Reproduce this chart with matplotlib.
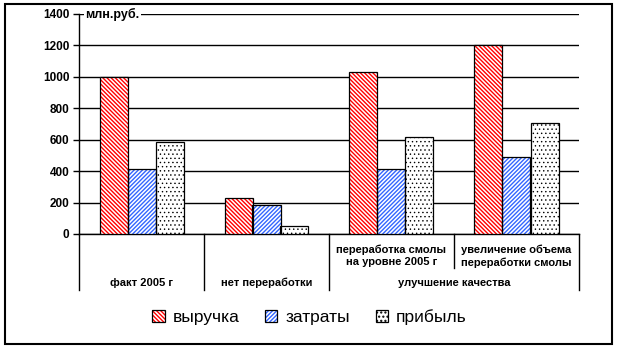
import matplotlib
matplotlib.use("Agg")
import matplotlib.pyplot as plt
from matplotlib.patches import Rectangle
import numpy as np

plt.rcParams["font.family"] = ["Liberation Sans", "DejaVu Sans"]
plt.rcParams["hatch.linewidth"] = 1.0

# scenarios and values, mln rub
scenarios = ["факт 2005 г", "нет переработки",
             "переработка смолы\nна уровне 2005 г",
             "увеличение объема\nпереработки смолы"]
group_label = "улучшение качества"
series_names = ["выручка", "затраты", "прибыль"]
revenue = [1000, 230, 1030, 1200]
costs = [415, 185, 415, 490]
profit = [585, 50, 615, 705]
y_ticks = [0, 200, 400, 600, 800, 1000, 1200, 1400]
unit_label = "млн.руб."

fig = plt.figure(figsize=(6.19, 3.49), dpi=100)
ax = fig.add_axes([79 / 619, 1 - 234 / 349, 500 / 619, 220 / 349])

x = np.arange(len(scenarios))
w = 0.224

# red: diagonal stripes with black outline
h_rev = ax.bar(x - w, revenue, w, facecolor="white", edgecolor="#ff0000",
               hatch="\\" * 8, linewidth=0, zorder=3)
b_rev = ax.bar(x - w, revenue, w, fill=False, edgecolor="black",
               linewidth=0.9, zorder=4)
# blue: opposite stripes
h_cost = ax.bar(x, costs, w, facecolor="white", edgecolor="#3366ff",
                hatch="/" * 8, linewidth=0, zorder=3)
b_cost = ax.bar(x, costs, w, fill=False, edgecolor="black",
                linewidth=0.9, zorder=4)
# dotted
b_prof = ax.bar(x + w, profit, w, facecolor="white", edgecolor="black",
                hatch="....", linewidth=0.9, zorder=3)
for p in b_prof:
    p.set_hatch_linewidth(0.5)

ax.set_xlim(-0.5, len(scenarios) - 0.5)
ax.set_ylim(0, 1400)
ax.set_yticks(y_ticks)
ax.set_yticklabels([str(t) for t in y_ticks], fontsize=8.5, fontweight="bold")
ax.tick_params(axis="y", direction="out", length=4, width=1, pad=3)
ax.set_xticks([])
ax.yaxis.grid(True, color="black", linewidth=1.0)
ax.set_axisbelow(True)
for side in ("top", "right"):
    ax.spines[side].set_visible(False)
ax.spines["left"].set_linewidth(1.0)
ax.spines["bottom"].set_linewidth(1.0)

ax.text(0.012, 1400, unit_label, transform=ax.get_yaxis_transform(),
        ha="left", va="center", fontsize=9, fontweight="bold",
        bbox=dict(facecolor="white", edgecolor="none", pad=1.0), zorder=5)

# two-level category axis
tr = ax.get_xaxis_transform()
for xb in [-0.5, 0.5, 1.5, 3.5]:
    ax.plot([xb, xb], [0, -0.2545], transform=tr, color="black",
            linewidth=1.0, clip_on=False)
ax.plot([2.5, 2.5], [0, -0.1545], transform=tr, color="black",
        linewidth=1.0, clip_on=False)

lab_kw = dict(transform=tr, ha="center", va="center", fontsize=8,
              fontweight="bold")
ax.text(0, -0.2227, scenarios[0], **lab_kw)
ax.text(1, -0.2227, scenarios[1], **lab_kw)
ax.text(2.5, -0.2227, group_label, **lab_kw)
ax.text(2, -0.1, scenarios[2], linespacing=1.3, **lab_kw)
ax.text(3, -0.1, scenarios[3], linespacing=1.3, **lab_kw)

leg = fig.legend([(h_rev, b_rev), (h_cost, b_cost), b_prof], series_names,
                 loc="center", bbox_to_anchor=(0.5, 1 - 317 / 349), ncol=3,
                 frameon=False, fontsize=12.5, handlelength=0.7,
                 handleheight=0.7, handletextpad=0.45, columnspacing=1.5)

# outer frame
fig.patches.append(Rectangle((5 / 619, 1 - 344 / 349), 607 / 619, 340 / 349,
                             transform=fig.transFigure, fill=False,
                             edgecolor="black", linewidth=1.5))

fig.savefig("out.png", dpi=100)
